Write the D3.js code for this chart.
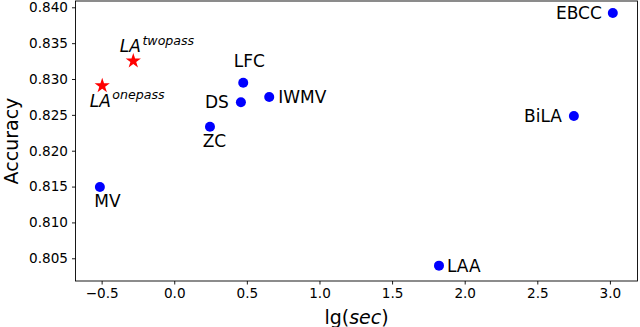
<!DOCTYPE html>
<html>
<head>
<meta charset="utf-8">
<script src="https://cdn.jsdelivr.net/npm/d3@7"></script>
<style>
  html, body { margin: 0; padding: 0; background: #fff; }
  svg { display: block; font-family: "DejaVu Sans", sans-serif; }
</style>
</head>
<body>
<svg id="chart" width="640" height="327"></svg>
<script>
// ---- data ----
const methods = ["EBCC", "BiLA", "LAA", "LFC", "DS", "IWMV", "ZC", "MV"];
const methodTime = [3.02, 2.752, 1.823, 0.475, 0.459, 0.654, 0.246, -0.512];
const methodAcc = [0.8392, 0.82484, 0.80397, 0.82949, 0.82675, 0.82749, 0.82335, 0.81494];

const laVariants = ["twopass", "onepass"];
const laTime = [-0.282, -0.496];
const laAcc = [0.83251, 0.82907];

const xTicks = [-0.5, 0.0, 0.5, 1.0, 1.5, 2.0, 2.5, 3.0];
const yTicks = [0.805, 0.810, 0.815, 0.820, 0.825, 0.830, 0.835, 0.840];

// ---- drawing ----
const plot = { left: 75.5, right: 637.5, top: 1, bottom: 281 };
const svg = d3.select("#chart");

const x = d3.scaleLinear().domain([-0.68, 3.19]).range([plot.left, plot.right]);
const y = d3.scaleLinear().domain([0.80183, 0.84088]).range([plot.bottom, plot.top]);

// frame
svg.append("rect")
  .attr("x", plot.left).attr("y", plot.top)
  .attr("width", plot.right - plot.left).attr("height", plot.bottom - plot.top)
  .attr("fill", "none").attr("stroke", "#000").attr("stroke-width", 0.9);

// axes
const xAxis = d3.axisBottom(x).tickValues(xTicks).tickFormat(d3.format(".1f")).tickSize(3.5).tickPadding(4);
const yAxis = d3.axisLeft(y).tickValues(yTicks).tickFormat(d3.format(".3f")).tickSize(3.5).tickPadding(4);

const gx = svg.append("g").attr("transform", `translate(0,${plot.bottom})`).call(xAxis);
const gy = svg.append("g").attr("transform", `translate(${plot.left},0)`).call(yAxis);
[gx, gy].forEach(g => {
  g.select(".domain").remove();
  g.selectAll(".tick line").attr("stroke", "#000").attr("stroke-width", 0.9);
  g.selectAll(".tick text").attr("fill", "#000")
    .style("font-family", '"DejaVu Sans", sans-serif').style("font-size", "13.6px");
});
gx.selectAll(".tick text").text(d => d < 0 ? "\u2212" + d3.format(".1f")(-d) : d3.format(".1f")(d));

// axis titles
const xl = svg.append("text")
  .attr("x", (plot.left + plot.right) / 2).attr("y", 323.5)
  .attr("text-anchor", "middle").attr("font-size", 19).attr("fill", "#000");
xl.append("tspan").text("lg(");
xl.append("tspan").attr("font-style", "italic").text("sec");
xl.append("tspan").text(")");

svg.append("text")
  .attr("transform", `translate(17.5,${(plot.top + plot.bottom) / 2}) rotate(-90)`)
  .attr("text-anchor", "middle").attr("font-size", 19).attr("fill", "#000")
  .text("Accuracy");

// method points
const labelPlacement = {
  EBCC: { dx: -11, dy: 0, anchor: "end" },
  BiLA: { dx: -12, dy: 0, anchor: "end" },
  LAA: { dx: 8, dy: 0, anchor: "start" },
  LFC: { dx: 6, dy: -16, anchor: "middle", base: true },
  DS: { dx: -12, dy: 0, anchor: "end" },
  IWMV: { dx: 9, dy: 0, anchor: "start" },
  ZC: { dx: 4.5, dy: 20.5, anchor: "middle", base: true },
  MV: { dx: 7.5, dy: 20.5, anchor: "middle", base: true }
};

const pts = methods.map((m, i) => ({ name: m, t: methodTime[i], a: methodAcc[i] }));
svg.append("g").selectAll("circle").data(pts).join("circle")
  .attr("cx", d => x(d.t)).attr("cy", d => y(d.a)).attr("r", 5).attr("fill", "#0000ff");

svg.append("g").selectAll("text").data(pts).join("text")
  .attr("x", d => x(d.t) + labelPlacement[d.name].dx)
  .attr("y", d => y(d.a) + labelPlacement[d.name].dy + (labelPlacement[d.name].base ? 0 : 6))
  .attr("text-anchor", d => labelPlacement[d.name].anchor)
  .attr("font-size", 17).attr("fill", "#000")
  .text(d => d.name);

// LA stars
const las = laVariants.map((v, i) => ({ name: v, t: laTime[i], a: laAcc[i] }));
svg.append("g").selectAll("path").data(las).join("path")
  .attr("transform", d => `translate(${x(d.t)},${y(d.a)})`)
  .attr("d", d3.symbol(d3.symbolStar, 72)())
  .attr("fill", "#ff0000");

const laPlacement = { twopass: { dx: -13.5, dy: -9 }, onepass: { dx: -12.5, dy: 21 } };
las.forEach(d => {
  const p = laPlacement[d.name];
  const t = svg.append("text")
    .attr("x", x(d.t) + p.dx).attr("y", y(d.a) + p.dy)
    .attr("font-size", 17).attr("font-style", "italic").attr("fill", "#000");
  t.append("tspan").text("LA");
  t.append("tspan").attr("dx", 1.5).attr("dy", -7.5).attr("font-size", 12.6).text(d.name);
});
</script>
</body>
</html>
